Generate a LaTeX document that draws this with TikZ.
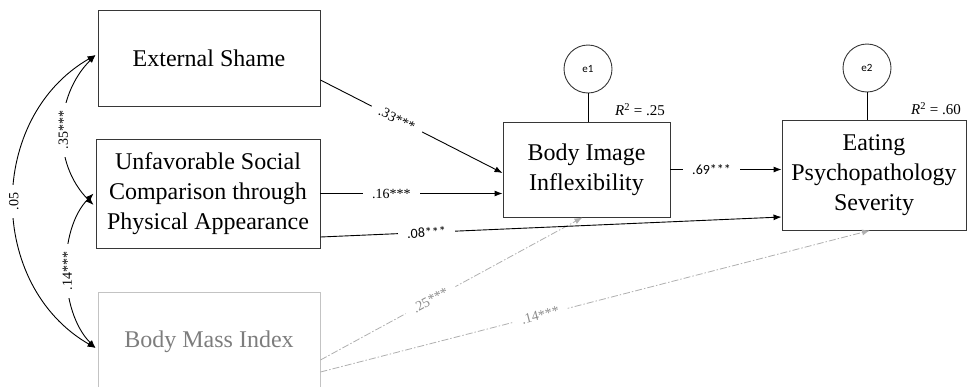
\documentclass[tikz,border=0pt]{standalone}
\usepackage{fontspec}
\setmainfont{Liberation Serif}
\newfontfamily\labelsans{Carlito}
\usetikzlibrary{arrows.meta}
\definecolor{box_gray}{RGB}{55,55,55}
\definecolor{bmi_edge}{RGB}{195,195,195}
\definecolor{bmi_text}{RGB}{125,125,125}
\definecolor{path_gray}{RGB}{175,175,175}
\definecolor{coef_gray}{RGB}{140,140,140}

\begin{document}
\begin{tikzpicture}[x=1pt,y=1pt,line width=0.9pt,>={Latex[length=8pt,width=6pt]}]
    \tikzstyle{var}=[draw=box_gray, rectangle, inner sep=0pt, align=center, text=black, font=\fontsize{24}{30}\selectfont]
    \tikzstyle{gvar}=[style=var, draw=bmi_edge, text=bmi_text]
    \tikzstyle{err}=[draw=box_gray, circle, minimum size=48pt, inner sep=0pt, font=\labelsans\fontsize{11}{13}\selectfont]
    \tikzstyle{coef}=[fill=white, inner xsep=9pt, inner ysep=1pt, font=\fontsize{14}{16}\selectfont]
    \tikzstyle{scoef}=[style=coef, font=\labelsans\fontsize{14}{16}\selectfont]
    \tikzstyle{gcoef}=[style=coef, text=coef_gray]
    \tikzstyle{vcoef}=[style=coef, rotate=90, inner xsep=8pt]
    \tikzstyle{rsq}=[font=\fontsize{15}{17}\selectfont]
    \tikzstyle{dashdot}=[draw=path_gray, line width=0.8pt, dash pattern=on 7pt off 2pt on 1.5pt off 2pt]

    \useasboundingbox (0,0) rectangle (973,-386);

    % predictors
    \node[var, minimum width=222pt, minimum height=96pt]  (es)  at (209,-58)    {External Shame};
    \node[var, minimum width=224pt, minimum height=109pt] (usc) at (208,-193.5) {Unfavorable Social\\Comparison through\\Physical Appearance};
    \node[gvar, minimum width=222pt, minimum height=100pt] (bmi) at (209,-342)  {Body Mass Index};

    % mediator and outcome
    \node[var, minimum width=167pt, minimum height=95pt]  (bii) at (586.5,-169.5) {Body Image\\Inflexibility};
    \node[var, minimum width=184pt, minimum height=110pt] (eps) at (874,-175)     {Eating\\Psychopathology\\Severity};

    % residuals
    \node[err] (e1) at (588,-69) {e1};
    \node[err] (e2) at (867,-68) {e2};
    \node[rsq] (r1) at (640,-110) {\textit{R}\textsuperscript{2} = .25};
    \node[rsq] (r2) at (936,-109) {\textit{R}\textsuperscript{2} = .60};
    \draw (e1.south) -- (e1.south |- bii.north);
    \draw (e2.south) -- (e2.south |- eps.north);

    % BMI paths
    \draw[dashdot,->,>={Latex[length=8pt,width=6pt]}] ([yshift=-18pt]bmi.east) -- ([xshift=-4pt]bii.south)
        node[gcoef, sloped, pos=0.42] {.25***};
    \draw[dashdot,->,>={Latex[length=8pt,width=6pt]}] ([yshift=-30pt]bmi.east) -- ([xshift=-4pt]eps.south)
        node[gcoef, sloped, pos=0.4] {.14***};

    % direct paths
    \draw[->] ([yshift=-22pt]es.east) -- ([yshift=-3.5pt]bii.west)
        node[coef, sloped, pos=0.42] {.33***};
    \draw[->] (usc.east) -- (usc.east -| bii.west)
        node[coef, pos=0.39] {.16***};
    \draw[->] ([yshift=-43.5pt]usc.east) -- ([yshift=-42pt]eps.west)
        node[scoef, sloped, pos=0.23] {.08***};
    \draw[->] (bii.east) -- (bii.east -| eps.west)
        node[scoef, pos=0.37] {.69***};

    % covariances
    \draw[<->] ([xshift=-2pt,yshift=-11.5pt]usc.west) to[out=135,in=225]
        node[vcoef, midway] {.35***} ([xshift=-2pt,yshift=3pt]es.west);
    \draw[<->] ([xshift=-2pt,yshift=-6pt]bmi.west) to[out=135,in=225,looseness=0.85]
        node[vcoef, midway] {.14***} ([xshift=-2pt]usc.west);
    \draw[<->] ([xshift=-2pt,yshift=-6pt]bmi.west) to[out=150,in=210,looseness=1.1]
        node[vcoef, midway] {.05} ([xshift=-2pt,yshift=3pt]es.west);
\end{tikzpicture}
\end{document}
